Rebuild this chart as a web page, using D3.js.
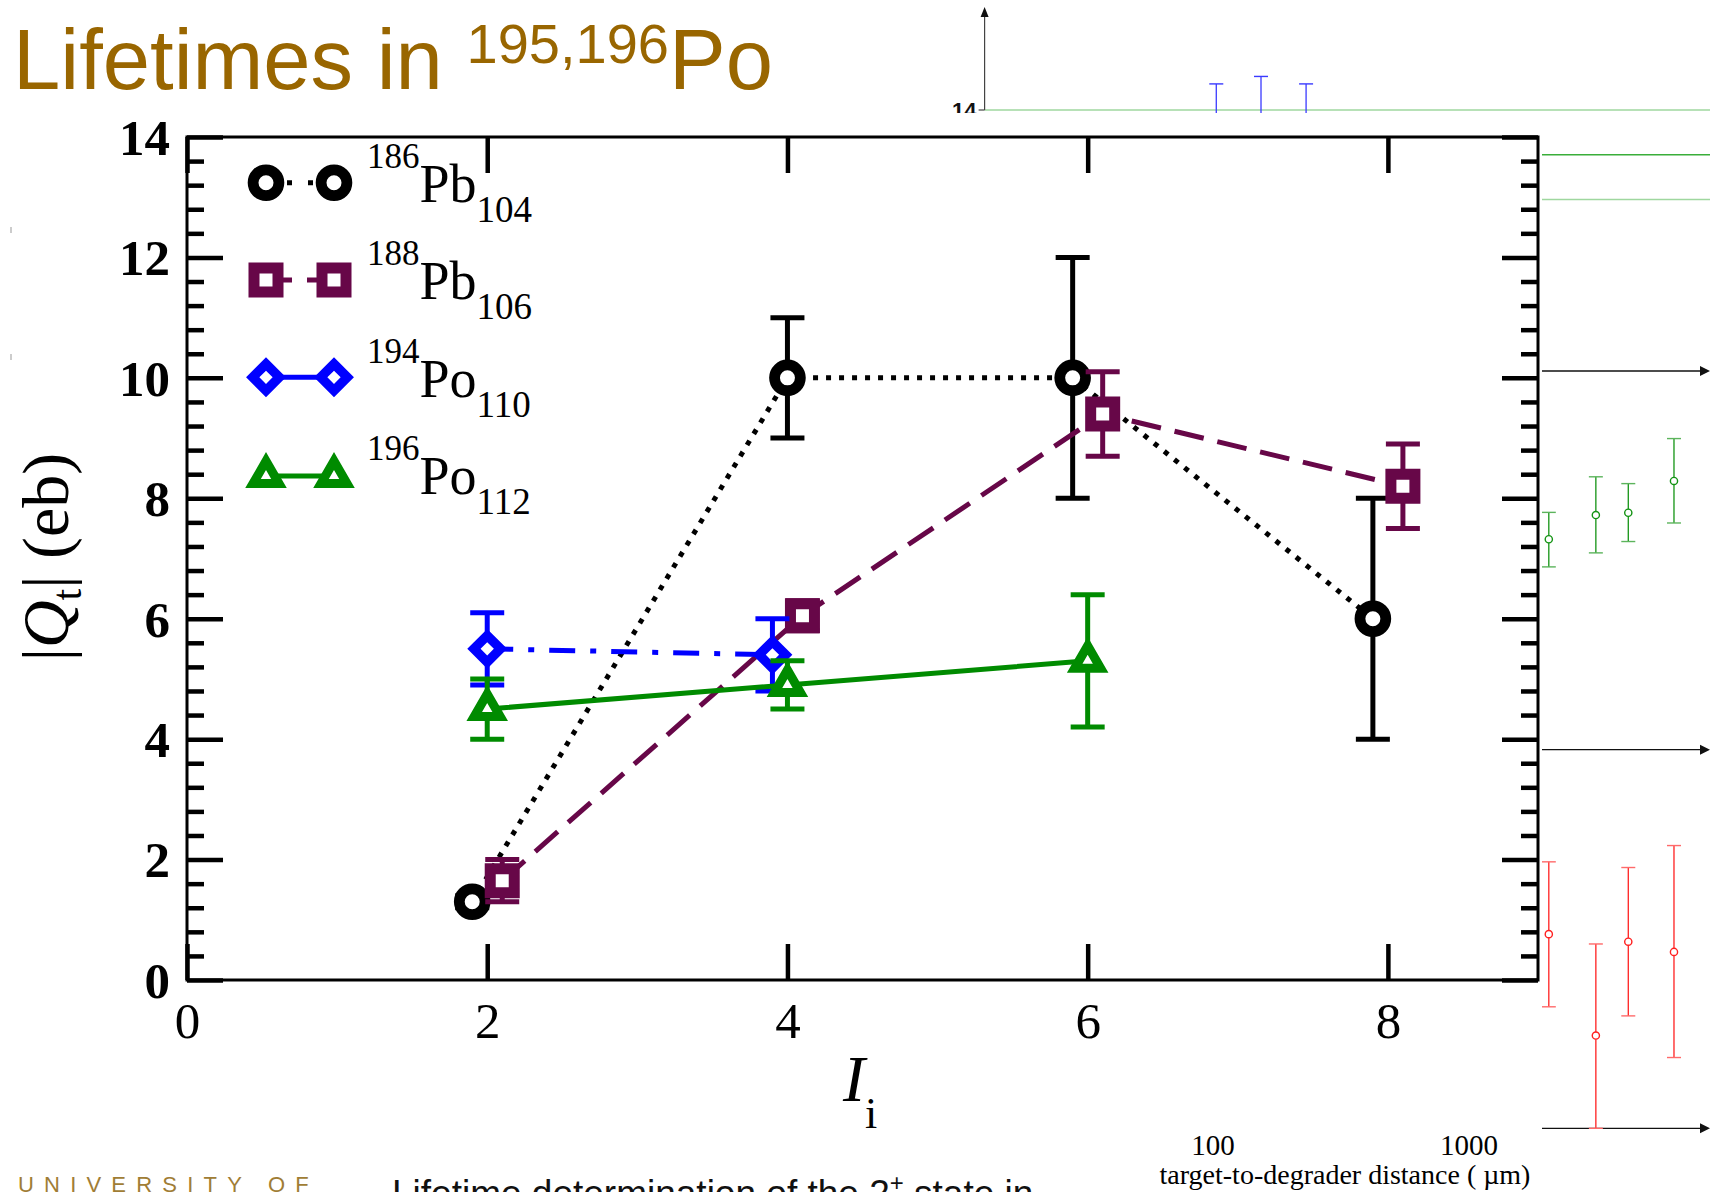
<!DOCTYPE html>
<html>
<head>
<meta charset="utf-8">
<script src="https://cdn.jsdelivr.net/npm/d3@7"></script>
<style>
  html, body { margin: 0; padding: 0; background: #fff; overflow: hidden; }
  svg { display: block; }
</style>
</head>
<body>
<svg id="chart" width="1721" height="1192"></svg>
<script>
// ---------- quadrupole moments |Qt| against initial spin I_i ----------
const pb186Spin = [1.9, 4, 5.9, 7.9];
const pb186Q    = [1.3, 10, 10, 6];
const pb186Lo   = [1.2, 9, 8, 4];
const pb186Hi   = [1.4, 11, 12, 8];

const pb188Spin = [2.1, 4.1, 6.1, 8.1];
const pb188Q    = [1.65, 6.05, 9.4, 8.2];
const pb188Lo   = [1.3, 5.8, 8.7, 7.5];
const pb188Hi   = [2.0, 6.3, 10.1, 8.9];

const po194Spin = [2, 3.9];
const po194Q    = [5.5, 5.4];
const po194Lo   = [4.9, 4.8];
const po194Hi   = [6.1, 6.0];

const po196Spin = [2, 4, 6];
const po196Q    = [4.5, 4.9, 5.3];
const po196Lo   = [4.0, 4.5, 4.2];
const po196Hi   = [5.0, 5.3, 6.4];

const nucleusMass  = ["186", "188", "194", "196"];
const nucleusElem  = ["Pb", "Pb", "Po", "Po"];
const nucleusN     = ["104", "106", "110", "112"];

const xTickValues = [0, 2, 4, 6, 8];
const yTickValues = [0, 2, 4, 6, 8, 10, 12, 14];
const yMinorValues = d3.range(0, 14.001, 0.4).filter(v => Math.abs(v / 2 - Math.round(v / 2)) > 0.01);

// ---------- lifetime analysis panels (target-to-degrader distance, µm) ----------
const distTicks   = [100, 1000];
const blueDist    = [103, 154, 231];
const blueVal     = [12.0, 12.3, 12.0];
const blueLo      = [8.6, 8.8, 8.6];
const blueHi      = [15.4, 15.8, 15.4];
const fitBand     = [9.2, 11.6, 14.0];   // lower, mean, upper
const panelDist   = [2050, 3130, 4190, 6320];
const greenVal    = [55.6, 62.0, 62.6, 71.0];
const greenLo     = [48.3, 52.0, 55.0, 59.9];
const greenHi     = [62.7, 72.1, 70.3, 82.2];
const redVal      = [51.3, 24.5, 49.3, 46.6];
const redLo       = [32.1, 0, 29.7, 18.7];
const redHi       = [70.4, 48.7, 68.9, 74.7];

const svg = d3.select("#chart");
const serif = "'Liberation Serif', 'Times New Roman', serif";
const sans = "'Liberation Sans', Arial, sans-serif";

// ================= background lifetime panels =================
const inset = svg.append("g");
const dist = d3.scaleLog().domain([100, 1000]).range([1213, 1469]);
const panelA = d3.scaleLinear().domain([0, 14]).range([371, 110]);
const panelB = d3.scaleLinear().domain([0, 100]).range([749.7, 371.2]);
const panelC = d3.scaleLinear().domain([0, 100]).range([1128.3, 749.8]);
const insetLeft = 984.6, insetRight = 1710;

// fit band lines
const bandColors = ["#9fd79f", "#3aae3a", "#9fd79f"];
fitBand.forEach((v, i) => {
  inset.append("line")
    .attr("x1", insetLeft).attr("x2", insetRight)
    .attr("y1", panelA(v)).attr("y2", panelA(v))
    .attr("stroke", bandColors[i]).attr("stroke-width", 1.4);
});

// vertical axis with arrow
inset.append("line").attr("x1", insetLeft).attr("x2", insetLeft)
  .attr("y1", panelA(14)).attr("y2", 14).attr("stroke", "#444").attr("stroke-width", 1.2);
inset.append("path")
  .attr("d", `M${insetLeft - 4},17 L${insetLeft + 4},17 L${insetLeft},7 Z`).attr("fill", "#111");
inset.append("line").attr("x1", insetLeft - 6).attr("x2", insetLeft)
  .attr("y1", panelA(14)).attr("y2", panelA(14)).attr("stroke", "#444").attr("stroke-width", 1.2);
inset.append("text").attr("x", insetLeft - 8).attr("y", panelA(14) + 8)
  .attr("text-anchor", "end").attr("font-family", sans).attr("font-weight", "bold")
  .attr("font-size", 22).attr("fill", "#111").text("14");

// horizontal axes with arrows
[panelA(0), panelB(0), panelC(0)].forEach(yy => {
  inset.append("line").attr("x1", insetLeft).attr("x2", insetRight - 8)
    .attr("y1", yy).attr("y2", yy).attr("stroke", "#111").attr("stroke-width", 1.3);
  inset.append("path")
    .attr("d", `M${insetRight - 10},${yy - 5} L${insetRight},${yy} L${insetRight - 10},${yy + 5} Z`)
    .attr("fill", "#111");
});

function insetPoints(xs, vals, lo, hi, yScale, color, capColor) {
  xs.forEach((d, i) => {
    const cx = dist(d);
    inset.append("line").attr("x1", cx).attr("x2", cx)
      .attr("y1", yScale(lo[i])).attr("y2", yScale(hi[i]))
      .attr("stroke", color).attr("stroke-width", 1.3);
    [lo[i], hi[i]].forEach(v => {
      inset.append("line").attr("x1", cx - 7).attr("x2", cx + 7)
        .attr("y1", yScale(v)).attr("y2", yScale(v))
        .attr("stroke", capColor).attr("stroke-width", 1.4);
    });
    inset.append("circle").attr("cx", cx).attr("cy", yScale(vals[i])).attr("r", 3.6)
      .attr("fill", "#fff").attr("stroke", color).attr("stroke-width", 1.4);
  });
}
insetPoints(blueDist, blueVal, blueLo, blueHi, panelA, "#3a3aff", "#3a3aff");
insetPoints(panelDist, greenVal, greenLo, greenHi, panelB, "#139313", "#5cb45c");
insetPoints(panelDist, redVal, redLo, redHi, panelC, "#ff2020", "#ff6a6a");

distTicks.forEach(d => {
  inset.append("text").attr("x", dist(d)).attr("y", 1155)
    .attr("text-anchor", "middle").attr("font-family", serif)
    .attr("font-size", 29).attr("fill", "#000").text(d);
});
inset.append("text").attr("x", 1345).attr("y", 1184)
  .attr("text-anchor", "middle").attr("font-family", serif)
  .attr("font-size", 28).attr("fill", "#000").text("target-to-degrader distance ( µm)");

// ================= main figure =================
svg.append("rect").attr("x", 0).attr("y", 113).attr("width", 1542).attr("height", 1020).attr("fill", "#fff");

// stray marks at the left edge
[230, 357].forEach(yy => {
  svg.append("line").attr("x1", 11).attr("x2", 11).attr("y1", yy - 3).attr("y2", yy + 3)
    .attr("stroke", "#999").attr("stroke-width", 1);
});

// title
const title = svg.append("text").attr("x", 13).attr("y", 89)
  .attr("font-family", sans).attr("fill", "#996600").attr("font-size", 85);
title.append("tspan").text("Lifetimes in ");
title.append("tspan").attr("font-size", 56).attr("y", 63).text("195,196");
title.append("tspan").attr("y", 89).text("Po");

// bottom strip
svg.append("text").attr("x", 18).attr("y", 1192)
  .attr("font-family", sans).attr("font-size", 22).attr("letter-spacing", 10.2)
  .attr("fill", "#a07d35").text("UNIVERSITY OF");
const caption = svg.append("text").attr("x", 392).attr("y", 1206)
  .attr("font-family", sans).attr("font-size", 37).attr("fill", "#111");
caption.append("tspan").text("Lifetime determination of the 2");
caption.append("tspan").attr("font-size", 24).attr("dy", -15).text("+");
caption.append("tspan").attr("dy", 15).text(" state in");

// scales
const x = d3.scaleLinear().domain([0, 9]).range([187, 1538]);
const y = d3.scaleLinear().domain([0, 14]).range([980, 137]);

const plot = svg.append("g");

// axes (ticks point inward)
function styleAxis(g, width) {
  g.select(".domain").remove();
  g.selectAll(".tick line").attr("stroke", "#000").attr("stroke-width", width);
}
plot.append("g").attr("transform", `translate(${x(0)},0)`)
  .call(d3.axisLeft(y).tickValues(yMinorValues).tickSize(-17).tickFormat(""))
  .call(g => styleAxis(g, 4.5));
plot.append("g").attr("transform", `translate(${x(9)},0)`)
  .call(d3.axisRight(y).tickValues(yMinorValues).tickSize(-17).tickFormat(""))
  .call(g => styleAxis(g, 4.5));
plot.append("g").attr("transform", `translate(${x(9)},0)`)
  .call(d3.axisRight(y).tickValues(yTickValues).tickSize(-36).tickFormat(""))
  .call(g => styleAxis(g, 4.5));
plot.append("g").attr("transform", `translate(0,${y(14)})`)
  .call(d3.axisTop(x).tickValues(xTickValues).tickSize(-36).tickFormat(""))
  .call(g => styleAxis(g, 4.5));

const yAxis = plot.append("g").attr("transform", `translate(${x(0)},0)`)
  .call(d3.axisLeft(y).tickValues(yTickValues).tickSize(-36).tickPadding(17).tickFormat(d3.format("d")))
  .call(g => styleAxis(g, 4.5));
yAxis.selectAll("text").attr("font-family", serif).attr("font-weight", "bold")
  .attr("font-size", 51).attr("fill", "#000").attr("dy", "0.34em");

const xAxis = plot.append("g").attr("transform", `translate(0,${y(0)})`)
  .call(d3.axisBottom(x).tickValues(xTickValues).tickSize(-36).tickPadding(22).tickFormat(d3.format("d")))
  .call(g => styleAxis(g, 4.5));
xAxis.selectAll("text").attr("font-family", serif)
  .attr("font-size", 51).attr("fill", "#000").attr("dy", "0.71em");

// frame
plot.append("rect").attr("x", x(0)).attr("y", y(14))
  .attr("width", x(9) - x(0)).attr("height", y(0) - y(14))
  .attr("fill", "none").attr("stroke", "#000").attr("stroke-width", 3);

// axis titles
const yTitle = plot.append("text")
  .attr("transform", "translate(68,557) rotate(-90)")
  .attr("text-anchor", "middle").attr("font-family", serif).attr("font-size", 66).attr("fill", "#000");
yTitle.append("tspan").text("|");
yTitle.append("tspan").attr("font-style", "italic").text("Q");
yTitle.append("tspan").attr("font-size", 42).attr("dy", 13).text("t");
yTitle.append("tspan").attr("dy", -13).text("| (eb)");

const xTitle = plot.append("text").attr("x", 843).attr("y", 1101)
  .attr("font-family", serif).attr("font-size", 66).attr("fill", "#000");
xTitle.append("tspan").attr("font-style", "italic").text("I");
xTitle.append("tspan").attr("font-size", 44).attr("dy", 27).text("i");

// series
const symCircle = d3.symbol().type(d3.symbolCircle).size(Math.PI * 12.9 * 12.9)();
const symSquare = d3.symbol().type(d3.symbolSquare).size(24 * 24)();
const symDiamond = d3.symbol().type(d3.symbolSquare).size(18.8 * 18.8)();
const symTriangle = d3.symbol().type(d3.symbolTriangle).size(292)();

const series = [
  { spin: pb186Spin, q: pb186Q, lo: pb186Lo, hi: pb186Hi, color: "#000000", dash: "5,8",
    legendDash: "5,16", path: symCircle, rot: 0, sw: 10.8 },
  { spin: pb188Spin, q: pb188Q, lo: pb188Lo, hi: pb188Hi, color: "#670748", dash: "30,14",
    legendDash: "26,15", path: symSquare, rot: 0, sw: 11 },
  { spin: po194Spin, q: po194Q, lo: po194Lo, hi: po194Hi, color: "#0000ff", dash: "26,15,6,15",
    legendDash: null, path: symDiamond, rot: 45, sw: 9.4 },
  { spin: po196Spin, q: po196Q, lo: po196Lo, hi: po196Hi, color: "#008b00", dash: null,
    legendDash: null, path: symTriangle, rot: 0, sw: 9 }
];

const line = d3.line().x(d => x(d[0])).y(d => y(d[1]));

series.forEach(s => {
  const g = plot.append("g");
  const pts = s.spin.map((v, i) => [v, s.q[i]]);
  g.append("path").attr("d", line(pts)).attr("fill", "none")
    .attr("stroke", s.color).attr("stroke-width", 5)
    .attr("stroke-dasharray", s.dash);
  pts.forEach((p, i) => {
    const cx = x(p[0]);
    g.append("line").attr("x1", cx).attr("x2", cx)
      .attr("y1", y(s.lo[i])).attr("y2", y(s.hi[i]))
      .attr("stroke", s.color).attr("stroke-width", 5);
    [s.lo[i], s.hi[i]].forEach(v => {
      g.append("line").attr("x1", cx - 17).attr("x2", cx + 17)
        .attr("y1", y(v)).attr("y2", y(v))
        .attr("stroke", s.color).attr("stroke-width", 5);
    });
  });
  pts.forEach(p => {
    g.append("path").attr("d", s.path)
      .attr("transform", `translate(${x(p[0])},${y(p[1])}) rotate(${s.rot})`)
      .attr("fill", "#fff").attr("stroke", s.color).attr("stroke-width", s.sw)
      .attr("stroke-linejoin", "miter");
  });
});

// legend
const legend = plot.append("g");
series.forEach((s, i) => {
  const ly = 182.7 + i * 97.3;
  const ry = s.path === symTriangle ? ly + 1.5 : ly;
  legend.append("line").attr("x1", 266).attr("x2", 334).attr("y1", ry).attr("y2", ry)
    .attr("stroke", s.color).attr("stroke-width", 5)
    .attr("stroke-dasharray", s.legendDash);
  [266, 334].forEach(lx => {
    legend.append("path").attr("d", s.path)
      .attr("transform", `translate(${lx},${ry}) rotate(${s.rot})`)
      .attr("fill", "#fff").attr("stroke", s.color).attr("stroke-width", s.sw)
      .attr("stroke-linejoin", "miter");
  });
  const t = legend.append("text").attr("x", 367).attr("font-family", serif).attr("fill", "#000");
  t.append("tspan").attr("y", ly - 14.7).attr("font-size", 35).text(nucleusMass[i]);
  t.append("tspan").attr("y", ly + 19.3).attr("font-size", 54).text(nucleusElem[i]);
  t.append("tspan").attr("y", ly + 39.3).attr("font-size", 37).text(nucleusN[i]);
});
</script>
</body>
</html>
